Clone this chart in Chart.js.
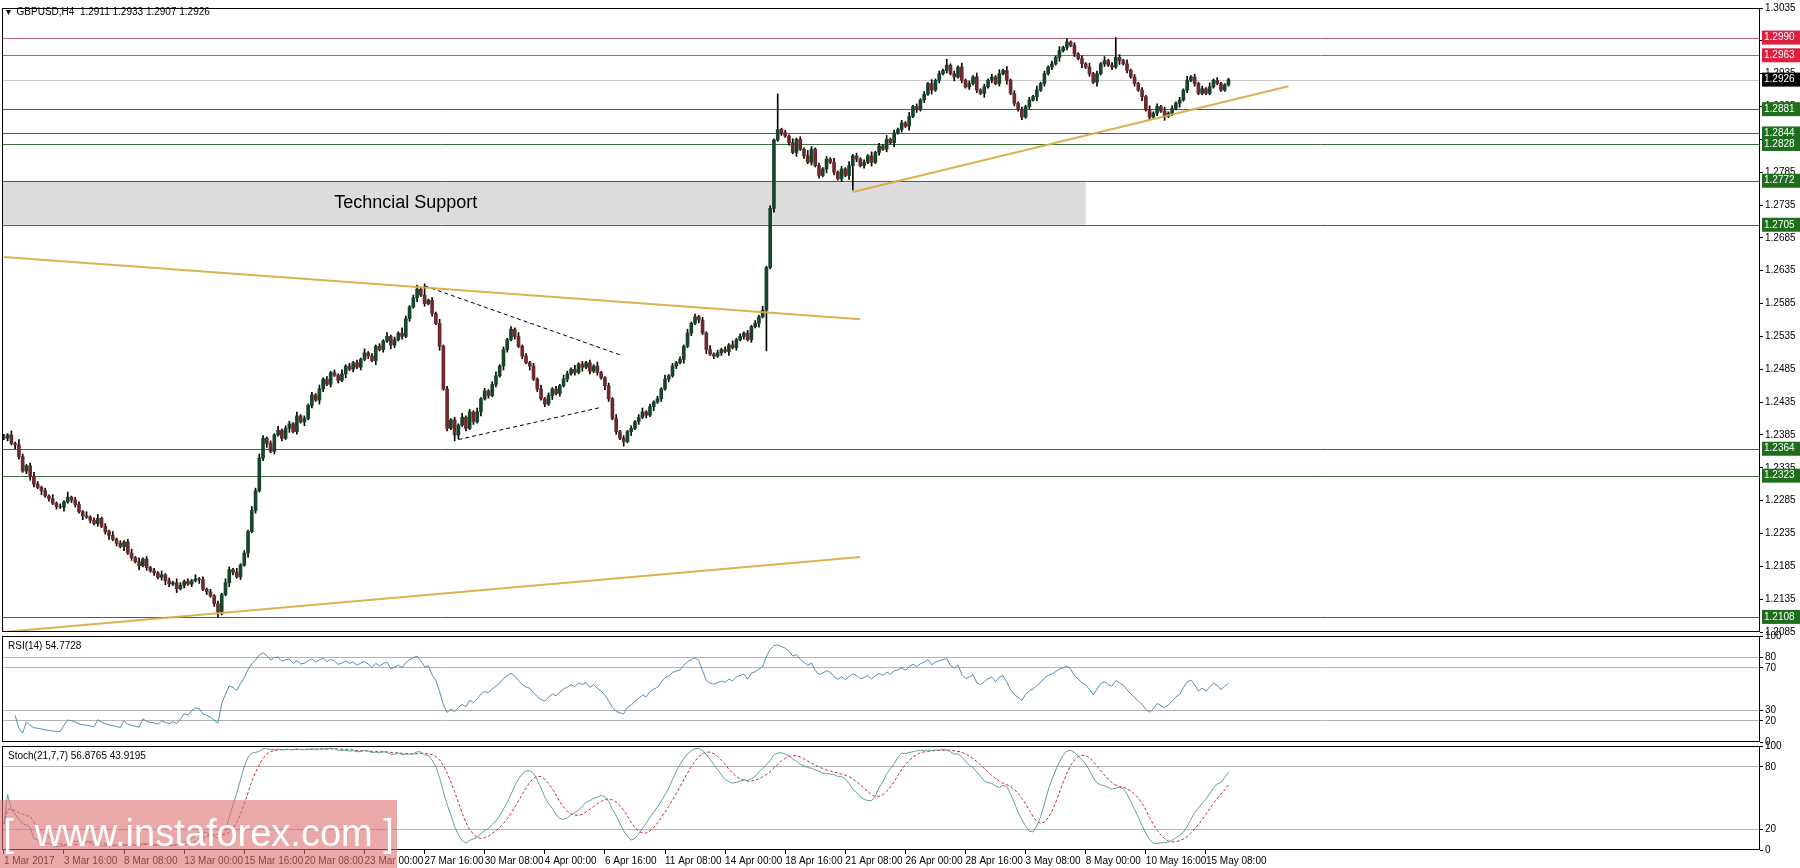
<!DOCTYPE html>
<html><head><meta charset="utf-8">
<script src="https://cdn.jsdelivr.net/npm/chart.js@4.4.1/dist/chart.umd.min.js"></script>
<style>
html,body{margin:0;padding:0;background:#fff;width:1800px;height:868px;overflow:hidden}
.p{position:absolute;left:0;width:1800px}
#wm{position:absolute;left:0;top:800px;width:397px;height:68px;background:rgba(222,110,110,0.6);color:#fff;font:38px "Liberation Sans",Arial,sans-serif;line-height:66px;white-space:nowrap;text-align:center}
</style></head><body>
<div class="p" style="top:0;height:640px"><canvas id="c1" width="1800" height="640"></canvas></div>
<div class="p" style="top:628px;height:122px"><canvas id="c2" width="1800" height="122"></canvas></div>
<div class="p" style="top:738px;height:130px"><canvas id="c3" width="1800" height="130"></canvas></div>
<div id="wm">[&nbsp;&nbsp;www.instaforex.com&nbsp;]</div>
<script>
// ---------- data (price in pips above 1.2000) ----------
const closes=[380,385,372,370,352,330,338,322,310,305,
300,292,288,281,276,275,283,290,286,279,
268,262,260,255,250,258,246,238,232,226,
220,215,222,205,198,192,186,196,183,178,
175,168,172,163,158,160,151,156,162,158,
163,166,165,150,146,140,128,115,142,160,
180,176,169,187,205,238,270,300,350,380,
372,360,385,392,380,395,402,390,414,405,
410,430,446,438,455,470,462,480,476,468,
478,490,485,495,488,500,510,505,498,520,
515,528,535,522,530,540,535,562,580,594,
607,598,585,590,570,555,520,455,395,408,
385,400,412,395,420,405,420,440,452,445,
462,475,490,515,530,546,535,520,505,495,
490,470,455,440,432,445,455,448,460,470,
478,485,480,493,488,495,482,490,480,472,
460,440,410,390,380,375,390,395,405,412,
420,415,428,435,440,455,470,475,490,495,
500,520,540,555,565,560,540,515,508,505,
510,515,512,522,518,530,535,540,530,550,
555,565,575,640,730,834,850,845,840,830,
815,835,820,810,800,820,795,780,790,805,
800,785,775,790,780,795,810,805,795,800,
810,800,815,825,820,835,830,845,850,860,
855,870,885,880,895,904,920,910,925,935,
940,948,935,930,945,925,915,920,930,910,
905,915,925,930,920,935,940,925,905,890,
880,869,885,895,900,910,920,935,945,950,
960,970,975,983,978,965,958,950,945,935,
922,935,950,955,948,945,960,955,950,940,
930,920,910,900,880,869,875,885,878,870,
875,882,890,895,910,925,930,920,905,912,
905,915,925,920,910,918,926];
const firstOpen=382;
const upWick="2131421232121312141221312312131212313121213121321213121212132131213232121312213121213121213121213121213121421231212131212131213121231212131212131212132131212131121312121231212131212131212131212131212121312121213121421212131213121213121312121312121312121213121312121313121212131212131212121312131212131212131213121213121213121".split('').map(Number);
const downWick="1213212321312121312213121212312131213121212321312121312121213212131212312121312131213212121312121213121321212131212131212312121312121321212131212131212121312121321212131212131212121312121312121312121213121312121312121213121213121213121213121312121312121312121213121213121212131212131212131213121213121213121213121312121".split('').map(Number);
const extremeHighs=[[206,904],[112,615],[296,990],[283,988],[251,957]];
const extremeLows=[[57,108],[203,513],[165,368],[120,376],[226,758]];
const dateLabels=["1 Mar 2017","3 Mar 16:00","8 Mar 08:00","13 Mar 00:00","15 Mar 16:00","20 Mar 08:00","23 Mar 00:00","27 Mar 16:00","30 Mar 08:00","4 Apr 00:00","6 Apr 16:00","11 Apr 08:00","14 Apr 00:00","18 Apr 16:00","21 Apr 08:00","26 Apr 00:00","28 Apr 16:00","3 May 08:00","8 May 00:00","10 May 16:00","15 May 08:00"];
const priceTicks=[1.3035,1.2985,1.2935,1.2885,1.2835,1.2785,1.2735,1.2685,1.2635,1.2585,1.2535,1.2485,1.2435,1.2385,1.2335,1.2285,1.2235,1.2185,1.2135,1.2085];
const levelValues=[1.2990,1.2963,1.2926,1.2881,1.2844,1.2828,1.2772,1.2705,1.2364,1.2323,1.2108];
const levelKinds=["r","r","k","g","g","g","g","g","g","g","g"];
const supportZone=[1.2705,1.2772,288];
const trendLines=[[[0,1.2656],[228,1.2561]],[[0,1.2085],[228,1.2199]],[[226,1.2755],[342,1.2916]]];
const triangleLines=[[[112,1.2612],[164,1.2507]],[[121,1.2378],[159,1.2427]]];
const TOTAL=468;

// ---------- derived OHLC ----------
const P=v=>1.2+v/10000;
const N=closes.length, O=[],H=[],L=[],C=[];
for(let i=0;i<N;i++){
  const o=i?closes[i-1]:firstOpen, c=closes[i];
  O.push(o);C.push(c);
  H.push(Math.max(o,c)+2*(upWick[i]||1));
  L.push(Math.min(o,c)-2*(downWick[i]||1));
}
extremeHighs.forEach(([i,v])=>H[i]=Math.max(H[i],v));
extremeLows.forEach(([i,v])=>L[i]=Math.min(L[i],v));
// RSI 14 (Wilder)
const rsi=[null];let ag=0,al=0;
for(let i=1;i<N;i++){const d=C[i]-C[i-1],g=Math.max(d,0),l=Math.max(-d,0);
  if(i<=14){ag+=g/14;al+=l/14;}else{ag=(ag*13+g)/14;al=(al*13+l)/14;}
  rsi[i]=i>=3?(al===0?100:100-100/(1+ag/al)):null;}
// Stoch 21,7,7
const raw=[],K=[],D=[];
for(let i=0;i<N;i++){const s=Math.max(0,i-20);let hh=-1e9,ll=1e9;
  for(let j=s;j<=i;j++){hh=Math.max(hh,H[j]);ll=Math.min(ll,L[j]);}
  raw.push(hh>ll?100*(C[i]-ll)/(hh-ll):50);}
for(let i=0;i<N;i++){const s=Math.max(0,i-6);let a=0;for(let j=s;j<=i;j++)a+=raw[j];K.push(a/(i-s+1));}
for(let i=0;i<N;i++){const s=Math.max(0,i-6);let a=0;for(let j=s;j<=i;j++)a+=K[j];D.push(a/(i-s+1));}

const labels=[];for(let i=0;i<TOTAL;i++)labels.push(i%16===0&&dateLabels[i/16]?dateLabels[i/16]:'');
const FONT='"Liberation Sans",Arial,sans-serif';
Chart.defaults.font.family=FONT;Chart.defaults.font.size=10;Chart.defaults.color='#000';

function yAxis(min,max,ticks,fmt,dashed){
  return {position:'right',min,max,afterFit:s=>{s.width=40},
    afterBuildTicks:s=>{s.ticks=ticks.map(v=>({value:v}))},
    border:{display:false},
    grid:{drawOnChartArea:!!dashed,tickLength:3,tickColor:'#000',
      color:c=>(dashed&&c.tick&&dashed.includes(c.tick.value))?'#b4b4b4':'rgba(0,0,0,0)',
      borderDash:dashed?[3,3]:[]},
    ticks:{padding:2,callback:v=>fmt(v),font:{size:10},color:'#000'}};
}
const frame={id:'frame',afterDraw(ch){const a=ch.chartArea,x=ch.ctx;x.save();x.strokeStyle='#000';x.lineWidth=1;
  x.strokeRect(Math.round(a.left)+.5,Math.round(a.top)+.5,Math.round(a.right-a.left)-1,Math.round(a.bottom-a.top)-1);
  if(ch.options.plugins.caption){x.font='10px '+FONT;x.fillStyle='#000';x.textBaseline='top';x.fillText(ch.options.plugins.caption,a.left+6,a.top+5);}
  x.restore();}};
const xHidden={display:false,offset:true};

// ---------- main chart ----------
const mainDeco={id:'mainDeco',
 beforeDatasetsDraw(ch){const x=ch.ctx,a=ch.chartArea,ys=ch.scales.y,xs=ch.scales.x;x.save();
  const y1=ys.getPixelForValue(supportZone[1]),y0=ys.getPixelForValue(supportZone[0]),xe=xs.getPixelForValue(supportZone[2]);
  x.fillStyle='#dcdcdc';x.fillRect(a.left,y1,xe-a.left,y0-y1);
  x.fillStyle='#000';x.font='18px Arial,"Liberation Sans",sans-serif';x.textAlign='center';x.textBaseline='middle';
  x.fillText('Techncial Support',xs.getPixelForValue(107),(y0+y1)/2);
  levelValues.forEach((v,i)=>{const y=Math.round(ys.getPixelForValue(v))+.5;
    x.strokeStyle=levelKinds[i]==='r'?'#b06070':levelKinds[i]==='k'?'#c8c8c8':'#3c6e3c';x.lineWidth=1;
    x.beginPath();x.moveTo(a.left,y);x.lineTo(a.right,y);x.stroke();});
  x.restore();},
 afterDraw(ch){const x=ch.ctx,a=ch.chartArea,ys=ch.scales.y;x.save();x.font='10px '+FONT;x.textBaseline='middle';
  levelValues.forEach((v,i)=>{const y=ys.getPixelForValue(v);
    x.fillStyle=levelKinds[i]==='r'?'#dc2040':levelKinds[i]==='k'?'#000':'#1e6e1e';
    x.fillRect(a.right+2,y-7,38,14);x.fillStyle='#fff';x.fillText(v.toFixed(4),a.right+4,y);});
  x.fillStyle='#000';x.fillText('\u25BE  GBPUSD,H4  1.2911 1.2933 1.2907 1.2926',a.left+4,a.top+4);
  x.restore();}};
const lineDS=(pts,col,w,dash)=>{const d=new Array(TOTAL).fill(null);pts.forEach(p=>d[p[0]]=p[1]);
  return {type:'line',data:d,spanGaps:true,borderColor:col,borderWidth:w,borderDash:dash||[],pointRadius:0,fill:false,order:0};};
new Chart(document.getElementById('c1'),{type:'bar',
 data:{labels,datasets:[
  {data:L.map((l,i)=>[P(l),P(H[i])]),backgroundColor:'#000',barThickness:1,grouped:false,order:2},
  {data:O.map((o,i)=>{let a=P(o),b=P(C[i]);if(Math.abs(a-b)<0.00005)b=a+0.00005;return[a,b]}),
   backgroundColor:O.map((o,i)=>C[i]>=o?'#17452a':'#6e2a2a'),borderWidth:0,barThickness:3,grouped:false,order:1},
  ...trendLines.map(t=>lineDS(t,'rgba(214,170,60,0.9)',2)),
  ...triangleLines.map(t=>lineDS(t,'#000',1,[4,3]))]},
 options:{responsive:false,animation:false,devicePixelRatio:1,layout:{padding:{left:2,top:0,bottom:0}},
  plugins:{legend:{display:false},tooltip:{enabled:false}},
  scales:{x:xHidden,y:yAxis(1.2085,1.3035,priceTicks,v=>v.toFixed(4))}},
 plugins:[mainDeco,frame]});

// ---------- RSI ----------
new Chart(document.getElementById('c2'),{type:'line',
 data:{labels,datasets:[{data:rsi,borderColor:'#4f8fb0',borderWidth:1,pointRadius:0,spanGaps:true}]},
 options:{responsive:false,animation:false,devicePixelRatio:1,layout:{padding:{left:2,top:0,bottom:0}},
  plugins:{legend:{display:false},tooltip:{enabled:false},caption:'RSI(14) 54.7728'},
  scales:{x:xHidden,y:yAxis(0,100,[0,20,30,70,80,100],v=>String(v),[20,30,70,80])}},
 plugins:[frame]});

// ---------- Stoch ----------
new Chart(document.getElementById('c3'),{type:'line',
 data:{labels,datasets:[
  {data:K,borderColor:'#5fa0a0',borderWidth:1,pointRadius:0},
  {data:D,borderColor:'#c03030',borderWidth:1,borderDash:[3,2],pointRadius:0}]},
 options:{responsive:false,animation:false,devicePixelRatio:1,layout:{padding:{left:2,top:0}},
  plugins:{legend:{display:false},tooltip:{enabled:false},caption:'Stoch(21,7,7) 56.8765 43.9195'},
  scales:{x:{offset:true,border:{display:false},grid:{drawOnChartArea:false,tickLength:4,tickColor:c=>c.tick&&c.tick.label?'#000':'rgba(0,0,0,0)'},
     ticks:{autoSkip:false,maxRotation:0,align:'start',padding:1,font:{size:10},color:'#000'}},
   y:yAxis(0,100,[0,20,80,100],v=>String(v),[20,80])}},
 plugins:[frame]});
</script></body></html>
